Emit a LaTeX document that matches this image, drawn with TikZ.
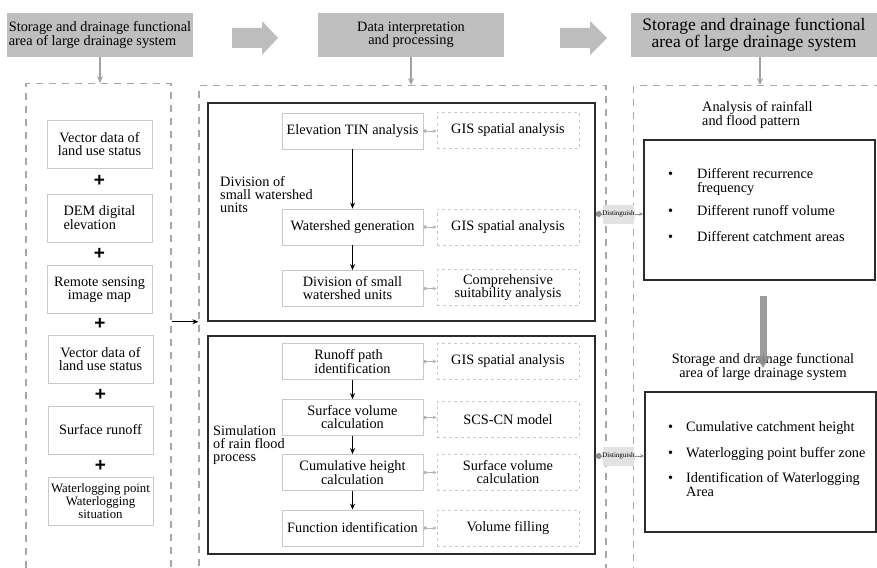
\documentclass[tikz,border=0pt]{standalone}
\usepackage{fontspec}
\setmainfont{Liberation Serif}
\setsansfont{Liberation Sans}
\usetikzlibrary{positioning, arrows.meta, calc}
\definecolor{head_gray}{HTML}{BFBFBF}
\definecolor{arrow_gray}{HTML}{BDBDBD}
\definecolor{dash_gray}{HTML}{A8A8A8}
\definecolor{box_gray}{HTML}{C9C9C9}
\definecolor{link_gray}{HTML}{B3B3B3}
\definecolor{dist_gray}{HTML}{E2E2E2}
\definecolor{frame_dark}{HTML}{2B2B2B}

% bullet followed by a (possibly multi-line) item text
\newcommand{\bitem}[2][29pt]{\makebox[#1][l]{\textbullet}\begin{tabular}[t]{@{}l@{}}#2\end{tabular}}

\begin{document}
\begin{tikzpicture}[
    % --- Global Settings ---
    % one unit is one pixel of the reference, y grows downwards as negative
    x=1pt, y=1pt,
    % Set font for all nodes in the picture
    every node/.style={font=\fontsize{14.3}{13}\selectfont, inner sep=1pt}
  ]

  % --- Style Definitions ---
  \tikzset{
    % grey title bars on top
    header/.style={
      fill=head_gray,
      minimum height=44pt,
      inner sep=2pt
    },
    % big dashed panels
    panel/.style={
      draw=dash_gray,
      line width=1.2pt,
      dash pattern=on 7pt off 6pt,
      anchor=north
    },
    % input data boxes of the left panel
    databox/.style={
      draw=box_gray,
      line width=0.8pt,
      minimum width=105pt,
      minimum height=48pt,
      align=center
    },
    % plus signs between the data boxes
    plus/.style={
      font=\fontsize{19}{19}\selectfont\sffamily\bfseries,
      inner sep=0pt
    },
    % processing steps
    stepbox/.style={
      draw=box_gray,
      line width=0.8pt,
      minimum width=141pt,
      minimum height=36pt,
      align=center
    },
    % tools used by a step
    toolbox/.style={
      draw=box_gray,
      line width=0.6pt,
      dashed,
      minimum width=142pt,
      minimum height=36pt,
      align=center
    },
    % black frames
    group/.style={
      draw=frame_dark,
      line width=1.5pt
    },
    grouplabel/.style={
      anchor=west,
      align=left
    },
    item/.style={
      anchor=west,
      inner sep=0pt
    },
    % grey "Distinguish" tag
    distbox/.style={
      fill=dist_gray,
      minimum width=31pt,
      minimum height=19pt
    },
    disttext/.style={
      font=\fontsize{7}{7}\selectfont,
      fill=dist_gray,
      inner sep=0.4pt
    },
    % arrows
    arrow/.style={
      -{Stealth[length=6pt, width=5pt]},
      line width=0.9pt,
      draw=black
    },
    feed/.style={
      -{Stealth[length=7pt, width=6pt]},
      line width=1.6pt,
      draw=arrow_gray!85!black
    },
    link/.style={
      {Circle[length=3.5pt]}-{Stealth[length=4pt, width=3.5pt]},
      line width=0.8pt,
      draw=link_gray
    },
    distlink/.style={
      {Circle[length=6pt]}-{Stealth[length=4pt, width=3.5pt]},
      line width=0.8pt,
      draw=link_gray!80!black
    },
    downarrow/.style={
      -{Triangle[length=12pt, width=14pt]},
      line width=7pt,
      draw=black!45,
      opacity=0.85
    }
  }

  \useasboundingbox (0,0) rectangle (877,-567);

  % --- Title Bars ---
  \node[header, minimum width=186pt, align=left] (head1) at (100,-35)
    {Storage and drainage functional\\area of large drainage system};
  \node[header, minimum width=186pt, align=center] (head2) at (411,-35)
    {Data interpretation\\and processing};
  \node[header, minimum width=246pt, align=center,
        font=\fontsize{17.5}{14}\selectfont] (head3) at (754,-35)
    {Storage and drainage functional\\area of large drainage system};

  % big grey arrows between the title bars
  \fill[arrow_gray] (232,-28) -- (262,-28) -- (262,-21) -- (278,-38)
    -- (262,-55) -- (262,-48) -- (232,-48) -- cycle;
  \fill[arrow_gray] (560,-28) -- (590,-28) -- (590,-21) -- (607,-38)
    -- (590,-55) -- (590,-48) -- (560,-48) -- cycle;

  % --- Dashed Panels ---
  \node[panel, minimum width=145pt, minimum height=520pt] (inpanel) at (98.5,-83) {};
  \node[panel, minimum width=407pt, minimum height=520pt] (procpanel) at (402.5,-85) {};
  \node[panel, minimum width=260pt, minimum height=520pt, anchor=north west] (outpanel) at (633,-85) {};

  % --- Input Data ---
  \node[databox] (landuse1) at (99.5,-144) {Vector data of\\land use status};
  \node[databox, align=left] (dem) at (99.5,-218) {DEM digital\\elevation};
  \node[databox] (remote) at (99.5,-289.5) {Remote sensing\\image map};
  \node[databox] (landuse2) at (100.5,-359) {Vector data of\\land use status};
  \node[databox] (runoff) at (100.5,-430) {Surface runoff};
  \node[databox, font=\fontsize{12.8}{12.7}\selectfont] (waterlog) at (100.5,-501)
    {Waterlogging point\\Waterlogging\\situation};

  \node[plus] (plus1) at ($(landuse1.south)!0.5!(dem.north)$) {+};
  \node[plus] (plus2) at ($(dem.south)!0.5!(remote.north)$) {+};
  \node[plus] (plus3) at ($(remote.south)!0.5!(landuse2.north)$) {+};
  \node[plus] (plus4) at ($(landuse2.south)!0.5!(runoff.north)$) {+};
  \node[plus] (plus5) at ($(runoff.south)!0.5!(waterlog.north)$) {+};

  % --- Processing Frames ---
  \node[group, minimum width=387pt, minimum height=218pt] (divgroup) at (401.5,-212) {};
  \node[group, minimum width=387pt, minimum height=218pt] (simgroup) at (401.5,-445) {};

  \node[grouplabel] (divlabel) at (219,-195) {Division of\\small watershed\\units};
  \node[grouplabel] (simlabel) at (212,-445) {Simulation\\of rain flood\\process};

  % steps
  \node[stepbox] (tin) at (352.5,-131) {Elevation TIN analysis};
  \node[stepbox] (shed) at (352.5,-227) {Watershed generation};
  \node[stepbox, align=left] (units) at (352.5,-288.5) {Division of small\\watershed units};
  \node[stepbox, align=left] (path) at (352.5,-361.5) {Runoff path\\identification};
  \node[stepbox] (volume) at (352.5,-417.5) {Surface volume\\calculation};
  \node[stepbox] (height) at (352.5,-472.5) {Cumulative height\\calculation};
  \node[stepbox] (funct) at (352.5,-528) {Function identification};

  % tools
  \node[toolbox] (gis1) at (508,-130.5) {GIS spatial analysis};
  \node[toolbox] (gis2) at (508,-227) {GIS spatial analysis};
  \node[toolbox] (suit) at (508,-287.5) {Comprehensive\\suitability analysis};
  \node[toolbox] (gis3) at (508,-361.5) {GIS spatial analysis};
  \node[toolbox] (scs) at (508,-419.5) {SCS-CN model};
  \node[toolbox] (surf) at (508,-472.5) {Surface volume\\calculation};
  \node[toolbox] (fill) at (508,-528) {Volume filling};

  % --- Output Panel ---
  \node[grouplabel] (patlabel) at (701,-115) {Analysis of rainfall\\and flood pattern};
  \node[group, minimum width=231pt, minimum height=140pt] (patbox) at (759.5,-210) {};
  \node[item] (pat1) at (668,-182) {\bitem{Different recurrence\\frequency}};
  \node[item] (pat2) at (668,-212) {\bitem{Different runoff volume}};
  \node[item] (pat3) at (668,-238) {\bitem{Different catchment areas}};

  \node[align=center] (areatitle) at (763,-367)
    {Storage and drainage functional\\area of large drainage system};
  \node[group, minimum width=231pt, minimum height=140pt] (areabox) at (760.5,-462) {};
  \node[item] (area1) at (668,-428) {\bitem[18pt]{Cumulative catchment height}};
  \node[item] (area2) at (668,-454) {\bitem[18pt]{Waterlogging point buffer zone}};
  \node[item] (area3) at (668,-486.5) {\bitem[18pt]{Identification of Waterlogging\\Area}};

  % "Distinguish" tags
  \node[distbox] (dist1) at (618.5,-214) {};
  \node[distbox] (dist2) at (618.5,-456) {};

  % --- Path and Arrow Drawing ---
  % title bars into the panels
  \draw[feed] (head1.south) -- (head1.south |- inpanel.north);
  \draw[feed] (head2.south) -- (head2.south |- procpanel.north);
  \draw[feed] ([xshift=6pt]head3.south) -- ([xshift=6pt]head3.south |- outpanel.north);

  % input data into processing
  \draw[arrow] (inpanel.east |- divgroup.south) -- (procpanel.west |- divgroup.south);

  % main flow of the steps
  \draw[arrow] (tin.south) -- (shed.north);
  \draw[arrow] (shed.south) -- (units.north);
  \draw[arrow] (path.south) -- (volume.north);
  \draw[arrow] (volume.south) -- (height.north);
  \draw[arrow] (height.south) -- (funct.north);

  % steps to their tools
  \draw[link] (tin.east) -- (tin.east -| gis1.west);
  \draw[link] (shed.east) -- (shed.east -| gis2.west);
  \draw[link] (units.east) -- (units.east -| suit.west);
  \draw[link] (path.east) -- (path.east -| gis3.west);
  \draw[link] (volume.east) -- (volume.east -| scs.west);
  \draw[link] (height.east) -- (height.east -| surf.west);
  \draw[link] (funct.east) -- (funct.east -| fill.west);

  % frames to the results
  \draw[distlink] (divgroup.east |- dist1) -- (patbox.west |- dist1);
  \draw[distlink] (simgroup.east |- dist2) -- (areabox.west |- dist2);
  \node[disttext] (dist1txt) at (dist1) {Distinguish};
  \node[disttext] (dist2txt) at (dist2) {Distinguish};

  % pattern analysis down to the functional area
  \draw[downarrow] ([yshift=-15pt]areatitle.center |- patbox.south) -- ([yshift=-1pt]areatitle.center);

\end{tikzpicture}
\end{document}
